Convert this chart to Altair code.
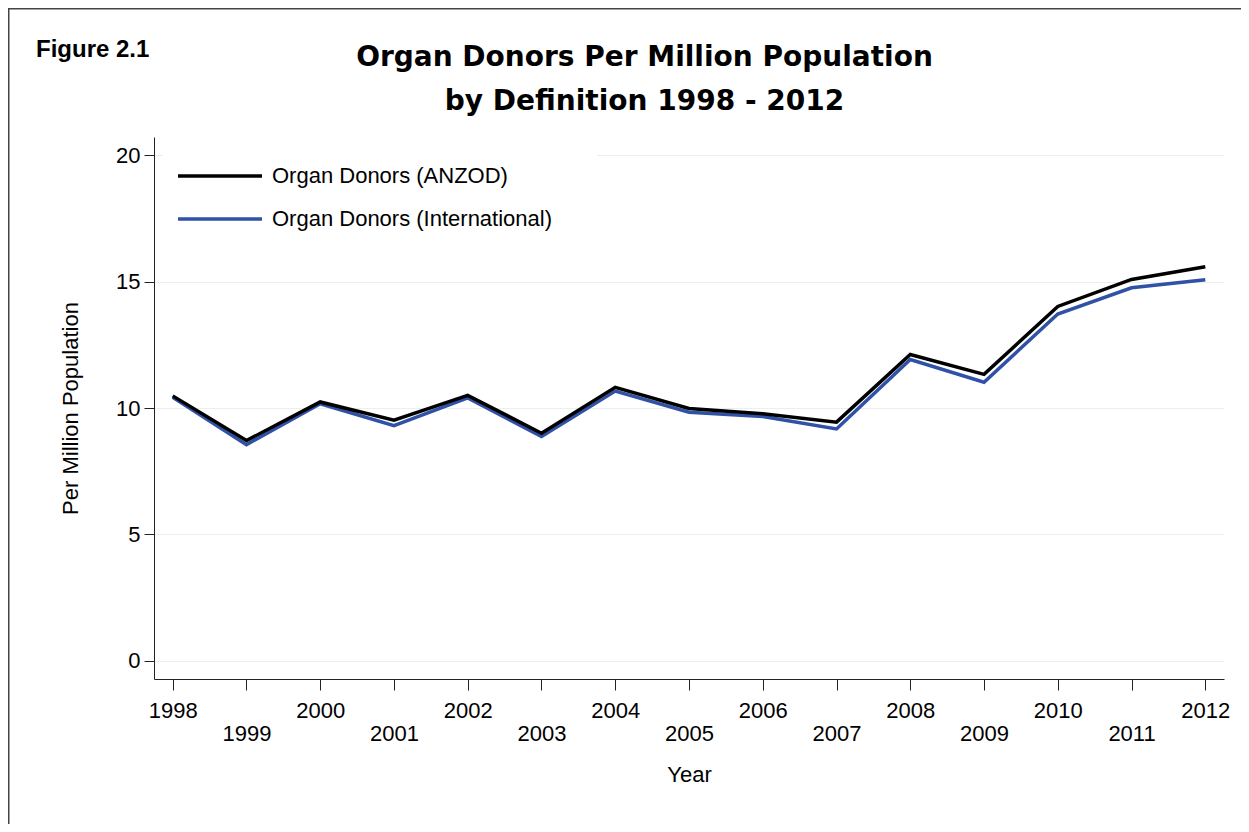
import altair as alt
import pandas as pd

years = list(range(1998, 2013))
anzod = [10.48, 8.71, 10.24, 9.52, 10.50, 9.00, 10.82, 9.98, 9.77, 9.44, 12.12, 11.33, 14.02, 15.09, 15.59]
international = [10.42, 8.55, 10.17, 9.30, 10.40, 8.87, 10.67, 9.83, 9.66, 9.17, 11.92, 11.02, 13.72, 14.76, 15.08]
series_names = ["Organ Donors (ANZOD)", "Organ Donors (International)"]
series_colors = ["#000000", "#2F52A6"]
y_ticks = [0, 5, 10, 15, 20]
title_lines = ["Organ Donors Per Million Population", "by Definition 1998 - 2012"]
figure_label = ["Figure 2.1"]

rows = []
for name, vals in [(series_names[1], international), (series_names[0], anzod)]:
    for yr, v in zip(years, vals):
        rows.append({"Year": yr, "Value": v, "Series": name})
df = pd.DataFrame(rows)

W, H = 1070, 542
FONT = "Liberation Sans"

x_scale = alt.Scale(domain=[1997.7465, 2012.2535], nice=False, zero=False)
y_scale = alt.Scale(domain=[-0.727, 20.727], nice=False, zero=False)

lines = alt.Chart(df).mark_line(strokeWidth=3.5).encode(
    x=alt.X(
        "Year:Q",
        scale=x_scale,
        axis=alt.Axis(
            values=years, format="d",
            labelExpr="datum.value % 2 == 1 ? ['', datum.label] : datum.label",
            labelBaseline="top", labelLineHeight=22.5, labelPadding=10.5,
            labelFontSize=22, labelFont=FONT, labelColor="black",
            labelFlush=False, labelOverlap=False,
            tickSize=11, tickColor="#222", domainColor="#222", grid=False,
            title="Year", titleFontSize=22, titleFont=FONT, titleFontWeight="normal",
            titleBaseline="alphabetic", titleY=102, titleColor="black",
        ),
    ),
    y=alt.Y(
        "Value:Q",
        scale=y_scale,
        axis=alt.Axis(
            values=y_ticks, grid=True, gridColor="#e8f0f0", gridWidth=1,
            tickSize=10, tickColor="#222", domainColor="#222",
            labelPadding=4, labelFontSize=22, labelFont=FONT, labelColor="black",
            title="Per Million Population", titleFontSize=22, titleFont=FONT,
            titleFontWeight="normal", titleColor="black", titleAngle=270,
            titleBaseline="alphabetic", titleX=-77, titleY=271,
        ),
    ),
    color=alt.Color(
        "Series:N",
        scale=alt.Scale(domain=series_names, range=series_colors),
        legend=alt.Legend(
            title=None, orient="none", legendX=9, legendY=-18,
            symbolType="M-3.818,0H3.818", symbolSize=484, symbolStrokeWidth=3.5,
            labelOffset=39, labelFontSize=22, labelFont=FONT, labelColor="black",
            labelLimit=600, padding=44, rowPadding=19, fillColor="white",
        ),
    ),
)

fig = alt.Chart(pd.DataFrame({"t": figure_label})).mark_text(
    align="left", baseline="alphabetic", font=FONT, fontSize=24,
    fontWeight="bold", color="black",
).encode(x=alt.value(-118), y=alt.value(-80), text="t:N")

title_style = dict(align="center", baseline="alphabetic", font="DejaVu Sans",
                   fontSize=28, fontWeight="bold", color="black")
title1 = alt.Chart(pd.DataFrame({"t": title_lines[:1]})).mark_text(**title_style).encode(
    x=alt.value(490.5), y=alt.value(-71.3), text="t:N")
title2 = alt.Chart(pd.DataFrame({"t": title_lines[1:]})).mark_text(**title_style).encode(
    x=alt.value(490.5), y=alt.value(-27), text="t:N")

border = alt.Chart(pd.DataFrame({"a": [0]})).mark_rect(
    fill="transparent", stroke="#444", strokeWidth=1.5,
).encode(x=alt.value(-145.25), y=alt.value(-128.25), x2=alt.value(3000), y2=alt.value(3000))

chart = alt.layer(border, lines, fig, title1, title2).properties(
    width=W, height=H,
    padding={"left": 146, "top": 129, "right": 17, "bottom": 145},
    autosize=alt.AutoSizeParams(type="none"),
).configure(font=FONT, background="white").configure_view(stroke=None)

chart.save("out.html", embed_options={"renderer": "svg", "actions": False})
